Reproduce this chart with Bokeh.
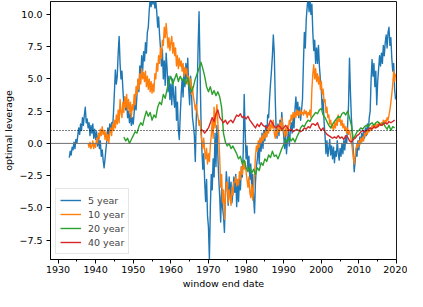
import numpy as np
from bokeh.plotting import figure
from bokeh.models import FixedTicker, CustomJSTickFormatter, Span
from bokeh.embed import file_html
from bokeh.resources import INLINE

# ---------------- data ----------------
series_names = ["5 year", "10 year", "20 year", "40 year"]
series_colors = ["#1f77b4", "#ff7f0e", "#2ca02c", "#d62728"]

# 5-year window, quarterly values starting 1933.0
blue_start = 1933.0
blue_step = 0.25
blue_vals = [
    -1.1, -0.6, -0.9, -0.3,   # 1933
    -0.5, 0.1, -0.4, 0.3,     # 1934
    0.0, 0.6, 1.2, 0.7,       # 1935
    1.5, 1.0, 2.0, 1.4,       # 1936
    2.2, 2.8, 1.6, 1.9,       # 1937
    1.2, 1.6, 0.6, 1.4,       # 1938
    0.8, 1.5, 0.4, 1.1,       # 1939
    0.3, 0.9, -0.2, 0.6,      # 1940
    -0.4, 0.2, -1.0, -0.5,    # 1941
    -1.3, -1.9, -1.2, -0.4,   # 1942
    0.3, 1.2, 0.6, 1.5,       # 1943
    0.9, 1.6, 1.1, 2.4,       # 1944
    4.0, 5.7, 4.6, 5.2,       # 1945
    7.0, 8.3, 6.2, 5.0,       # 1946
    5.6, 4.2, 3.0, 3.6,       # 1947
    2.6, 3.2, 2.0, 2.5,       # 1948
    1.6, 2.3, 1.4, 2.0,       # 1949
    1.5, 2.4, 3.2, 2.6,       # 1950
    3.8, 4.9, 4.0, 6.0,       # 1951
    5.2, 6.8, 5.6, 7.1,       # 1952
    6.4, 7.8, 7.0, 8.6,       # 1953
    9.0, 10.3, 11.2, 10.6,    # 1954
    11.4, 10.8, 11.6, 10.5,   # 1955
    11.0, 10.2, 9.0, 9.8,     # 1956
    8.4, 7.4, 6.0, 7.3,       # 1957
    5.0, 6.4, 4.5, 7.0,       # 1958
    5.8, 4.0, 5.2, 3.4,       # 1959
    4.6, 3.0, 5.0, 3.6,       # 1960
    2.8, 4.4, 1.8, 3.2,       # 1961
    1.0, 0.3, 2.2, 3.8,       # 1962
    5.0, 3.6, 5.8, 4.4,       # 1963
    6.2, 5.0, 6.6, 4.2,       # 1964
    3.0, 5.2, 3.8, 2.0,       # 1965
    1.4, 0.6, -1.4, 1.8,      # 1966
    4.0, 7.5, 10.2, 6.0,      # 1967
    2.0, -0.5, -2.0, -0.8,    # 1968
    -3.0, -4.5, -2.8, -5.6,   # 1969
    -6.5, -9.0, -5.0, -2.4,   # 1970
    -3.6, -1.2, -2.6, 0.8,    # 1971
    -1.8, 1.4, -1.0, -2.8,    # 1972
    -4.2, -6.1, -3.5, -5.0,   # 1973
    -5.6, -6.9, -4.0, -2.2,   # 1974
    -3.2, -4.8, -2.6, -4.2,   # 1975
    -3.0, -4.6, -3.8, -2.6,   # 1976
    -3.8, -2.4, -4.9, -3.2,   # 1977
    -4.5, -2.8, -3.6, -1.8,   # 1978
    -2.6, -0.6, 3.8, 1.0,     # 1979
    -1.2, -0.2, -2.0, -1.0,   # 1980
    -2.8, -1.6, -3.4, -2.4,   # 1981
    -4.2, -5.4, -3.0, -1.8,   # 1982
    -1.2, -0.2, -1.6, 0.4,    # 1983
    -0.6, 0.8, -0.4, 1.0,     # 1984
    0.2, 1.4, 0.6, 2.2,       # 1985
    2.0, 3.5, 4.6, 5.6,       # 1986
    6.8, 8.4, 7.0, 3.6,       # 1987
    1.0, 0.4, 1.5, 0.6,       # 1988
    1.8, 1.0, 2.4, 1.4,       # 1989
    0.6, -0.4, 0.8, -0.8,     # 1990
    0.2, 1.0, -0.2, 0.9,      # 1991
    1.6, 0.8, 2.0, 1.2,       # 1992
    2.6, 3.6, 2.4, 3.2,       # 1993
    2.0, 2.8, 1.8, 2.6,       # 1994
    3.4, 6.2, 8.6, 7.4,       # 1995
    9.6, 10.6, 11.3, 10.2,    # 1996
    11.2, 10.0, 10.8, 8.6,    # 1997
    7.2, 8.0, 6.2, 7.4,       # 1998
    6.2, 7.6, 6.0, 5.0,       # 1999
    4.2, 2.6, 3.4, 1.6,       # 2000
    0.6, -0.8, 0.2, -1.0,     # 2001
    -0.4, 0.3, -0.9, -0.2,    # 2002
    -1.2, -0.3, -1.5, -0.6,   # 2003
    -1.0, 0.2, -0.7, -1.3,    # 2004
    -0.4, -1.0, 0.0, -0.8,    # 2005
    0.2, -0.5, 0.6, 0.0,      # 2006
    1.4, 3.0, 6.6, 4.0,       # 2007
    2.0, 0.8, -0.6, -2.2,     # 2008
    -1.4, -0.4, -1.0, 0.2,    # 2009
    -0.5, 0.5, 0.0, 0.8,      # 2010
    0.2, 1.0, 0.4, 1.2,       # 2011
    0.6, 1.5, 0.9, 2.0,       # 2012
    2.5, 5.0, 6.5, 5.2,       # 2013
    6.2, 4.4, 5.6, 3.0,       # 2014
    4.8, 5.8, 6.8, 6.0,       # 2015
    7.0, 6.2, 7.6, 6.8,       # 2016
    7.8, 8.4, 7.4, 8.6,       # 2017
    9.0, 7.6, 8.2, 6.6,       # 2018
    5.6, 6.2, 4.2, 3.4,       # 2019
]

# 10-year window, quarterly values starting 1938.0
orange_start = 1938.0
orange_step = 0.25
orange_vals = [
    0.0, -0.3, 0.1, -0.4,     # 1938
    -0.2, 0.2, -0.4, 0.0,     # 1939
    -0.3, 0.4, 0.0, 0.8,      # 1940
    0.4, 1.1, 0.6, 1.3,       # 1941
    0.7, 1.0, 0.3, 0.9,       # 1942
    0.2, 0.7, 0.0, 0.8,       # 1943
    1.2, 0.6, 1.5, 1.0,       # 1944
    1.8, 1.2, 2.2, 1.5,       # 1945
    2.6, 1.6, 3.4, 2.4,       # 1946
    2.0, 3.2, 2.4, 3.6,       # 1947
    2.8, 3.8, 2.6, 3.4,       # 1948
    2.4, 3.2, 2.0, 3.0,       # 1949
    2.6, 3.8, 3.0, 4.4,       # 1950
    3.8, 5.0, 4.2, 5.4,       # 1951
    4.6, 5.8, 5.0, 5.5,       # 1952
    4.8, 5.6, 4.4, 5.2,       # 1953
    4.2, 5.0, 4.0, 4.8,       # 1954
    3.9, 4.6, 4.0, 5.4,       # 1955
    5.0, 6.2, 5.6, 6.8,       # 1956
    6.2, 7.4, 6.6, 8.0,       # 1957
    7.6, 9.0, 8.2, 9.3,       # 1958
    8.4, 7.4, 8.2, 7.2,       # 1959
    7.8, 8.3, 7.0, 7.8,       # 1960
    6.8, 7.4, 6.0, 6.8,       # 1961
    5.8, 6.6, 6.0, 6.4,       # 1962
    5.6, 6.2, 5.2, 5.9,       # 1963
    5.4, 5.8, 4.6, 5.2,       # 1964
    4.4, 5.0, 3.8, 4.4,       # 1965
    3.6, 3.2, 2.6, 3.0,       # 1966
    2.4, 2.0, 1.4, 1.8,       # 1967
    0.8, 0.2, -0.4, 0.4,      # 1968
    -0.6, -1.2, -0.4, -1.6,   # 1969
    -0.8, -1.4, -0.2, 0.6,    # 1970
    1.8, 0.4, 2.8, 1.2,       # 1971
    2.2, 3.0, 1.6, 0.4,       # 1972
    -1.2, -3.4, -2.4, -4.6,   # 1973
    -3.6, -5.9, -4.2, -3.0,   # 1974
    -3.0, -4.6, -3.6, -4.2,   # 1975
    -4.8, -3.4, -4.0, -3.0,   # 1976
    -3.0, -2.6, -3.3, -2.8,   # 1977
    -3.2, -2.2, -2.8, -1.8,   # 1978
    -2.4, -1.6, -2.0, -1.4,   # 1979
    -2.2, -2.8, -3.4, -2.6,   # 1980
    -3.8, -4.2, -3.2, -4.4,   # 1981
    -3.4, -2.4, -1.0, -0.2,   # 1982
    -0.6, 0.2, -0.3, 0.4,     # 1983
    0.0, 0.6, 0.2, 0.8,       # 1984
    0.4, 1.0, 0.5, 1.2,       # 1985
    0.8, 1.5, 1.0, 1.6,       # 1986
    1.2, 1.8, 0.8, 0.4,       # 1987
    1.0, 0.6, 1.4, 0.9,       # 1988
    1.6, 1.0, 2.0, 1.4,       # 1989
    1.0, 0.5, 1.2, 0.6,       # 1990
    1.4, 1.0, 1.8, 1.5,       # 1991
    2.2, 1.8, 2.4, 2.0,       # 1992
    2.4, 2.0, 2.6, 2.2,       # 1993
    2.5, 2.1, 2.6, 2.3,       # 1994
    2.4, 2.2, 2.6, 2.3,       # 1995
    2.5, 2.0, 2.4, 2.2,       # 1996
    2.6, 2.0, 4.2, 5.4,       # 1997
    6.1, 5.0, 5.8, 4.8,       # 1998
    5.4, 4.6, 5.2, 4.2,       # 1999
    4.8, 3.8, 4.2, 3.2,       # 2000
    3.4, 2.4, 2.8, 2.0,       # 2001
    2.2, 1.5, 1.8, 1.2,       # 2002
    1.4, 1.0, 1.6, 1.2,       # 2003
    1.8, 1.4, 2.2, 1.7,       # 2004
    1.9, 1.4, 1.8, 1.2,       # 2005
    1.5, 1.0, 1.3, 0.8,       # 2006
    1.2, 0.7, 1.0, 0.6,       # 2007
    0.2, -0.4, -1.0, -1.6,    # 2008
    -1.0, -0.4, 0.0, -0.3,    # 2009
    0.2, -0.1, 0.4, 0.1,      # 2010
    0.5, 0.2, 0.8, 0.6,       # 2011
    0.9, 0.7, 1.1, 0.9,       # 2012
    1.2, 1.0, 1.4, 1.2,       # 2013
    1.4, 1.2, 1.5, 1.3,       # 2014
    1.5, 1.3, 1.6, 1.4,       # 2015
    1.6, 1.4, 1.8, 1.6,       # 2016
    1.8, 1.6, 2.0, 1.8,       # 2017
    2.2, 2.6, 3.2, 3.8,       # 2018
    4.6, 5.6, 4.8, 5.4,       # 2019
]

# 20-year window, half-year values starting 1947.5
green_start = 1947.5
green_step = 0.5
green_vals = [
    0.5,                      # 1947.5
    0.2, 0.4, 0.0, 0.3,       # 1948-49
    0.6, 0.9, 0.8, 1.3,       # 1950-51
    1.6, 1.4, 2.0, 2.5,       # 1952-53
    2.1, 2.4, 1.8, 2.2,       # 1954-55
    2.0, 2.8, 3.2, 3.0,       # 1956-57
    3.8, 3.5, 4.2, 4.8,       # 1958-59
    5.2, 4.6, 5.0, 5.4,       # 1960-61
    4.8, 5.2, 4.9, 5.0,       # 1962-63
    4.6, 5.1, 4.4, 4.0,       # 1964-65
    4.4, 5.0, 5.4, 5.8,       # 1966-67
    6.3, 5.8, 5.2, 4.4,       # 1968-69
    4.0, 4.4, 3.8, 4.1,       # 1970-71
    3.7, 4.0, 3.6, 2.8,       # 1972-73
    0.8, 0.1, -0.2, 0.0,      # 1974-75
    -0.4, -0.2, -0.5, -0.8,   # 1976-77
    -1.2, -1.0, -1.6, -1.3,   # 1978-79
    -1.9, -2.2, -1.8, -2.3,   # 1980-81
    -2.0, -2.4, -1.9, -2.1,   # 1982-83
    -1.5, -1.7, -1.2, -1.4,   # 1984-85
    -0.9, -1.1, -0.6, -1.0,   # 1986-87
    -0.9, -1.2, -0.8, -0.4,   # 1988-89
    -0.1, 0.3, 0.1, 0.5,      # 1990-91
    0.2, 0.4, 0.1, 0.5,       # 1992-93
    0.8, 1.2, 1.4, 1.3,       # 1994-95
    1.6, 1.8, 1.7, 2.0,       # 1996-97
    2.2, 2.4, 2.3, 2.6,       # 1998-99
    2.7, 2.2, 2.0, 1.7,       # 2000-01
    1.4, 1.2, 1.5, 1.7,       # 2002-03
    1.9, 2.1, 2.0, 2.3,       # 2004-05
    2.4, 2.2, 2.5, 2.0,       # 2006-07
    1.4, 0.3, 0.6, 0.9,       # 2008-09
    1.0, 1.2, 1.1, 1.3,       # 2010-11
    1.4, 1.3, 1.5, 1.6,       # 2012-13
    1.4, 1.6, 1.7, 1.5,       # 2014-15
    1.4, 1.6, 1.3, 1.1,       # 2016-17
    1.4, 1.0, 1.3, 1.2,       # 2018-19
]

# 40-year window, half-year values starting 1968.0
red_start = 1968.0
red_step = 0.5
red_vals = [
    1.1, 1.0, 0.8, 1.0,       # 1968-69
    1.2, 1.6, 2.0, 1.7,       # 1970-71
    2.3, 2.6, 2.0, 1.8,       # 1972-73
    1.6, 1.8, 1.5, 1.7,       # 1974-75
    1.8, 1.6, 1.9, 2.2,       # 1976-77
    2.1, 2.3, 2.0, 2.1,       # 1978-79
    1.9, 2.1, 1.8, 1.6,       # 1980-81
    1.4, 1.2, 1.5, 1.3,       # 1982-83
    1.6, 1.4, 1.3, 1.2,       # 1984-85
    1.4, 1.8, 1.6, 1.3,       # 1986-87
    1.2, 1.4, 1.3, 1.1,       # 1988-89
    1.2, 1.4, 1.2, 1.0,       # 1990-91
    1.1, 0.9, 1.0, 1.1,       # 1992-93
    1.0, 0.9, 1.0, 1.2,       # 1994-95
    1.1, 1.3, 1.2, 1.5,       # 1996-97
    1.5, 1.4, 1.6, 1.2,       # 1998-99
    1.0, 1.2, 0.9, 0.7,       # 2000-01
    0.6, 0.5, 0.4, 0.5,       # 2002-03
    0.4, 0.6, 0.4, 0.5,       # 2004-05
    0.3, 0.6, 0.5, 0.2,       # 2006-07
    0.1, 0.3, 0.4, 0.6,       # 2008-09
    0.7, 0.9, 1.0, 0.9,       # 2010-11
    1.0, 1.1, 1.2, 1.1,       # 2012-13
    1.3, 1.2, 1.3, 1.5,       # 2014-15
    1.4, 1.5, 1.6, 1.5,       # 2016-17
    1.7, 1.6, 1.7, 1.8,       # 2018-19
]

x_ticks = [1930, 1940, 1950, 1960, 1970, 1980, 1990, 2000, 2010, 2020]
x_minor_ticks = [1935, 1945, 1955, 1965, 1975, 1985, 1995, 2005, 2015]
y_ticks = [-7.5, -5.0, -2.5, 0.0, 2.5, 5.0, 7.5, 10.0]
ref_zero = 0.0
ref_one = 1.0
x_label = "window end date"
y_label = "optimal leverage"

# ---------------- plot ----------------
FONT = "DejaVu Sans"
FS = "9.5px"

p = figure(width=407, height=291, x_range=(1928, 2020), y_range=(-9, 11),
           output_backend="svg", toolbar_location=None,
           min_border_left=44, min_border_right=11, min_border_top=1,
           min_border_bottom=30)
p.xgrid.visible = False
p.ygrid.visible = False
p.outline_line_color = "black"
p.outline_line_width = 0.9
p.background_fill_color = "white"
p.border_fill_color = "white"

series = [
    (blue_start, blue_step, blue_vals),
    (orange_start, orange_step, orange_vals),
    (green_start, green_step, green_vals),
    (red_start, red_step, red_vals),
]
for (start, step, vals), name, color in zip(series, series_names, series_colors):
    xs = start + step * np.arange(len(vals))
    p.line(xs, vals, line_color=color, line_width=1.4, line_join="round",
           legend_label=name)

p.add_layout(Span(location=ref_zero, dimension="width", line_color="#707070",
                  line_width=1.0))
p.add_layout(Span(location=ref_one, dimension="width", line_color="black",
                  line_width=1.0, line_dash="1 2"))

p.xaxis.ticker = FixedTicker(ticks=x_ticks, minor_ticks=x_minor_ticks)
p.yaxis.ticker = FixedTicker(ticks=y_ticks)
p.yaxis.formatter = CustomJSTickFormatter(
    code="return tick.toFixed(1).replace('-', '\u2212');")
p.xaxis.axis_label = x_label
p.yaxis.axis_label = y_label

for ax in (p.xaxis[0], p.yaxis[0]):
    ax.axis_line_color = "black"
    ax.axis_line_width = 0.9
    ax.major_tick_line_color = "black"
    ax.minor_tick_line_color = "black"
    ax.major_tick_in = 0
    ax.major_tick_out = 4
    ax.minor_tick_in = 0
    ax.minor_tick_out = 2
    ax.major_label_text_font = FONT
    ax.major_label_text_font_size = FS
    ax.major_label_text_color = "black"
    ax.axis_label_text_font = FONT
    ax.axis_label_text_font_size = FS
    ax.axis_label_text_font_style = "normal"
    ax.axis_label_text_color = "black"
    ax.major_label_standoff = 2
    ax.axis_label_standoff = 2
p.yaxis[0].major_label_standoff = 4

leg = p.legend[0]
leg.location = "bottom_left"
leg.margin = 5
leg.padding = 4
leg.spacing = 0
leg.label_text_font = FONT
leg.label_text_font_size = FS
leg.label_height = 14
leg.glyph_height = 14
leg.glyph_width = 21
leg.label_standoff = 7
leg.border_line_color = "#cccccc"
leg.border_line_width = 1
leg.background_fill_alpha = 0.8

open("out.html", "w").write(file_html(p, INLINE))
